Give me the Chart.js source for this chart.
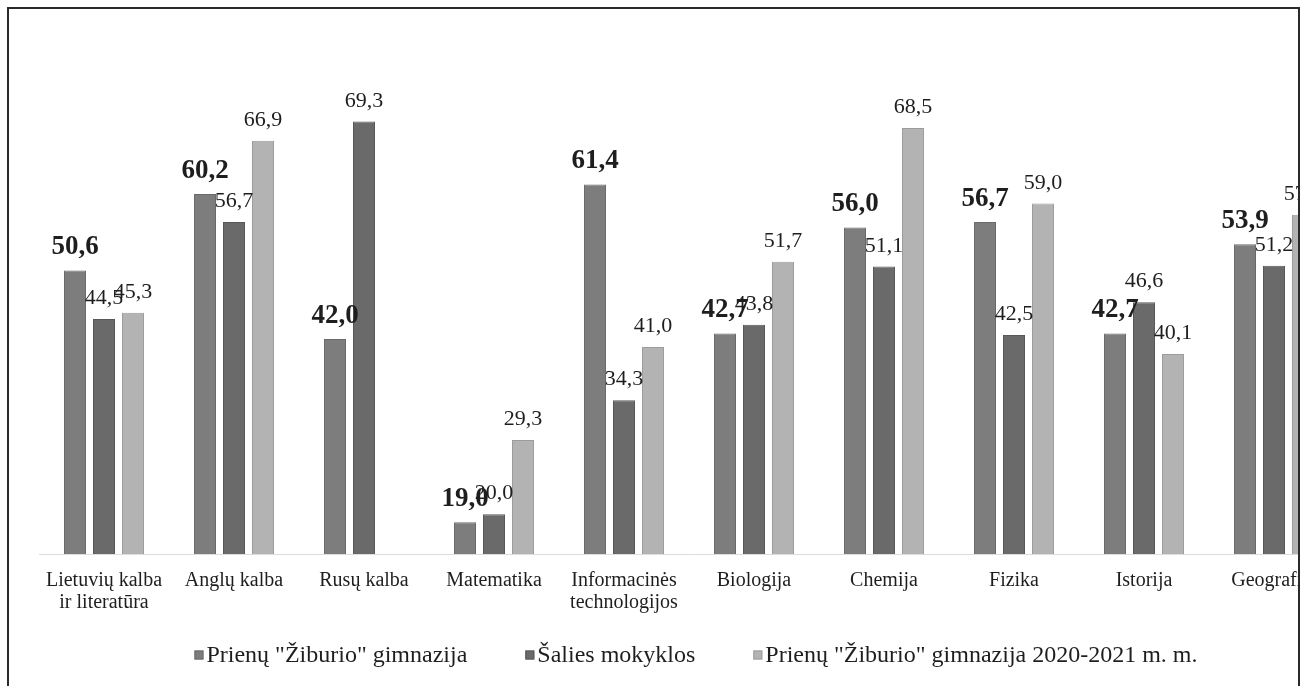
<!DOCTYPE html>
<html>
<head>
<meta charset="utf-8">
<script src="https://cdn.jsdelivr.net/npm/chart.js@4.4.0/dist/chart.umd.min.js"></script>
<style>
  body { margin: 0; background: #fff; }
  #clip { position: absolute; left: 0; top: 0; width: 1298px; height: 686px; overflow: hidden; }
  #frame { position: absolute; left: 7px; top: 7px; width: 1289px; height: 700px;
           border-left: 2px solid #2a2a2a; border-top: 2px solid #2a2a2a; border-right: 2px solid #2a2a2a;
           pointer-events: none; }
</style>
</head>
<body>
<div id="clip"><canvas id="chart" width="1360" height="686" style="width:1360px;height:686px"></canvas></div>
<div id="frame"></div>
<script>
// subjects
const categories = [
  ["Lietuvių kalba", "ir literatūra"],
  "Anglų kalba",
  "Rusų kalba",
  "Matematika",
  ["Informacinės", "technologijos"],
  "Biologija",
  "Chemija",
  "Fizika",
  "Istorija",
  "Geografija"
];
const seriesNames = [
  'Prienų "Žiburio" gimnazija',
  "Šalies mokyklos",
  'Prienų "Žiburio" gimnazija 2020-2021 m. m.'
];
const gimnazija = [50.6, 60.2, 42.0, 19.0, 61.4, 42.7, 56.0, 56.7, 42.7, 53.9];
const salies = [44.5, 56.7, 69.3, 20.0, 34.3, 43.8, 51.1, 42.5, 46.6, 51.2];
const gimnazija2021 = [45.3, 66.9, null, 29.3, 41.0, 51.7, 68.5, 59.0, 40.1, 57.6];

const colors = ["#7d7d7d", "#6a6a6a", "#b3b3b3"];
const edges = ["#6a6a6a", "#585858", "#9c9c9c"];
const serif = "'Liberation Serif', 'DejaVu Serif', serif";

// numbers above the bars, comma as decimal mark
const valueLabels = {
  id: "valueLabels",
  afterDatasetsDraw(chart) {
    const ctx = chart.ctx;
    ctx.save();
    ctx.textAlign = "center";
    ctx.textBaseline = "alphabetic";
    ctx.fillStyle = "#1e1e1e";
    chart.data.datasets.forEach((ds, i) => {
      const meta = chart.getDatasetMeta(i);
      ctx.font = i === 0 ? "bold 27px " + serif : "22px " + serif;
      const off = i === 0 ? 16 : 15;
      meta.data.forEach((bar, j) => {
        const v = ds.data[j];
        if (v == null) return;
        ctx.fillText(v.toFixed(1).replace(".", ","), bar.x, bar.y - off);
      });
    });
    ctx.restore();
  }
};

// legend row under the axis, wide gaps like the original
const bottomLegend = {
  id: "bottomLegend",
  afterDraw(chart) {
    const ctx = chart.ctx;
    const box = 9, gap = 3, space = 58, cx = 696, cy = 655;
    ctx.save();
    ctx.font = "24px " + serif;
    ctx.textBaseline = "middle";
    const items = chart.data.datasets.map(ds => ({
      text: ds.label, fill: ds.backgroundColor, edge: ds.borderColor,
      w: box + gap + ctx.measureText(ds.label).width
    }));
    let total = items.reduce((s, it) => s + it.w, 0) + space * (items.length - 1);
    let x = cx - total / 2;
    items.forEach(it => {
      ctx.fillStyle = it.fill;
      ctx.fillRect(x, cy - box / 2, box, box);
      ctx.strokeStyle = it.edge;
      ctx.lineWidth = 1;
      ctx.strokeRect(x + 0.5, cy - box / 2 + 0.5, box - 1, box - 1);
      ctx.fillStyle = "#1e1e1e";
      ctx.fillText(it.text, x + box + gap, cy + 1);
      x += it.w + space;
    });
    ctx.restore();
  }
};

new Chart(document.getElementById("chart"), {
  type: "bar",
  data: {
    labels: categories,
    datasets: [gimnazija, salies, gimnazija2021].map((d, i) => ({
      label: seriesNames[i],
      data: d,
      backgroundColor: colors[i],
      borderColor: edges[i],
      borderWidth: 1,
      categoryPercentage: 0.669,
      barPercentage: 0.759
    }))
  },
  options: {
    responsive: false,
    animation: false,
    layout: { padding: { left: 39, right: 21, top: 116, bottom: 56 } },
    plugins: {
      tooltip: { enabled: false },
      legend: { display: false }
    },
    scales: {
      x: {
        grid: { display: false, drawTicks: false },
        border: { color: "#dcdcdc", width: 1 },
        ticks: {
          color: "#1e1e1e",
          padding: 16,
          maxRotation: 0,
          autoSkip: false,
          font: { family: serif, size: 20, lineHeight: 1.1 }
        }
      },
      y: {
        display: false,
        min: 15,
        max: 70
      }
    }
  },
  plugins: [valueLabels, bottomLegend]
});
</script>
</body>
</html>
